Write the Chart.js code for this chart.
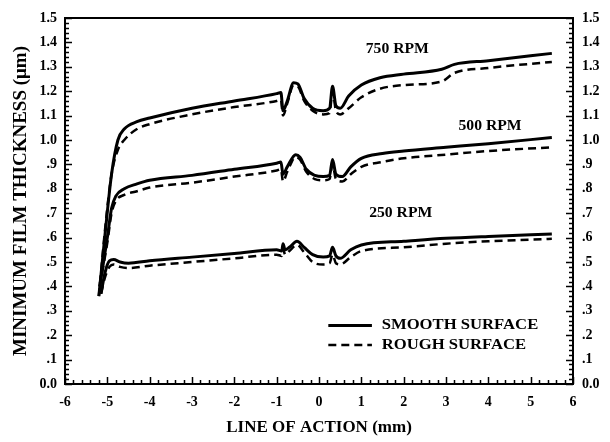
<!DOCTYPE html>
<html>
  <head>
    <title>Minimum Film Thickness</title>
    <script src="https://cdn.jsdelivr.net/npm/chart.js"></script>
    <style>
      html, body { margin: 0; padding: 0; background: #fff; }
      #wrap { width: 610px; height: 442px; }
    </style>
  </head>
  <body>
    <div id="wrap"><canvas id="film-chart"></canvas></div>

    <script>
      // line of action positions (mm) and film thickness (um)
      const x750 = [-5.2, -5.05, -4.9, -4.75, -4.6, -4.3, -4.0, -3.0, -2.0, -1.0, -0.9, -0.85, -0.75, -0.6, -0.5, -0.35, -0.15, 0.1, 0.25, 0.32, 0.4, 0.5, 0.7, 1.0, 1.44, 2.0, 2.9, 3.2, 4.0, 5.5]
      const smooth750 = [0.36, 0.62, 0.86, 1.0, 1.045, 1.075, 1.09, 1.13, 1.16, 1.19, 1.195, 1.12, 1.16, 1.235, 1.23, 1.17, 1.13, 1.12, 1.13, 1.22, 1.14, 1.13, 1.18, 1.225, 1.255, 1.27, 1.29, 1.31, 1.325, 1.355]
      const rough750 = [0.36, 0.64, 0.86, 0.96, 1.0, 1.045, 1.065, 1.105, 1.135, 1.16, 1.165, 1.1, 1.15, 1.225, 1.22, 1.16, 1.12, 1.105, 1.11, 1.2, 1.12, 1.105, 1.13, 1.175, 1.21, 1.225, 1.24, 1.275, 1.295, 1.32]

      const x500 = [-5.18, -5.0, -4.9, -4.8, -4.6, -4.3, -4.0, -3.0, -2.0, -1.0, -0.9, -0.85, -0.75, -0.55, -0.45, -0.3, -0.1, 0.1, 0.25, 0.32, 0.4, 0.55, 0.75, 1.0, 1.5, 2.0, 3.0, 4.0, 5.5]
      const smooth500 = [0.4, 0.6, 0.72, 0.77, 0.8, 0.82, 0.835, 0.855, 0.88, 0.905, 0.91, 0.86, 0.89, 0.94, 0.93, 0.88, 0.855, 0.85, 0.855, 0.92, 0.86, 0.85, 0.89, 0.925, 0.945, 0.955, 0.97, 0.985, 1.01]
      const rough500 = [0.4, 0.58, 0.7, 0.75, 0.775, 0.79, 0.805, 0.825, 0.85, 0.875, 0.88, 0.83, 0.87, 0.93, 0.92, 0.87, 0.84, 0.835, 0.84, 0.9, 0.84, 0.83, 0.86, 0.89, 0.91, 0.925, 0.94, 0.955, 0.97]

      const x250 = [-5.15, -5.05, -4.95, -4.85, -4.7, -4.5, -4.0, -3.0, -2.0, -1.0, -0.88, -0.85, -0.8, -0.7, -0.52, -0.35, -0.15, 0.1, 0.25, 0.32, 0.4, 0.5, 0.75, 1.0, 2.0, 3.0, 4.0, 5.5]
      const smooth250 = [0.37, 0.46, 0.505, 0.51, 0.5, 0.495, 0.505, 0.52, 0.535, 0.55, 0.545, 0.575, 0.55, 0.56, 0.585, 0.56, 0.53, 0.52, 0.525, 0.56, 0.525, 0.515, 0.55, 0.57, 0.585, 0.597, 0.605, 0.615]
      const rough250 = [0.37, 0.44, 0.48, 0.49, 0.48, 0.475, 0.485, 0.5, 0.515, 0.53, 0.525, 0.555, 0.53, 0.545, 0.57, 0.54, 0.5, 0.49, 0.495, 0.53, 0.495, 0.49, 0.52, 0.545, 0.56, 0.575, 0.585, 0.595]

      const xTickLabels = ['-6', '-5', '-4', '-3', '-2', '-1', '0', '1', '2', '3', '4', '5', '6']
      const yTickLabels = ['0.0', '.1', '.2', '.3', '.4', '.5', '.6', '.7', '.8', '.9', '1.0', '1.1', '1.2', '1.3', '1.4', '1.5']
      const speedLabels = ['750 RPM', '500 RPM', '250 RPM']
      const speedLabelPos = [[1.85, 1.37], [4.04, 1.055], [1.93, 0.7]]
      const legendLabels = ['SMOOTH SURFACE', 'ROUGH SURFACE']

      const serif = '"Liberation Serif", "Times New Roman", serif'
      const toPoints = (xs, ys) => xs.map((x, i) => ({ x: x, y: ys[i] }))

      const lineSet = (xs, ys, dashed) => ({
        data: toPoints(xs, ys),
        borderColor: '#000',
        borderWidth: dashed ? 2.5 : 3,
        borderDash: dashed ? [8, 5] : [],
        pointRadius: 0,
        fill: false,
        cubicInterpolationMode: 'monotone'
      })

      // the figure's lettering is a wide bold serif, so stretch it a little
      const wideText = (ctx, text, x, y, align, sx) => {
        ctx.save()
        ctx.translate(x, y)
        ctx.scale(sx, 1)
        ctx.textAlign = align
        ctx.fillText(text, 0, 0)
        ctx.restore()
      }

      // frame, inward tick marks, curve labels and legend
      const decorations = {
        id: 'decorations',
        afterDraw(chart) {
          const ctx = chart.ctx
          const a = chart.chartArea
          const xs = chart.scales.x
          const ys = chart.scales.y
          ctx.save()
          ctx.strokeStyle = '#000'
          ctx.lineWidth = 2
          ctx.strokeRect(a.left, a.top, a.right - a.left, a.bottom - a.top)

          ctx.lineWidth = 1.5
          ctx.beginPath()
          for (let i = 0; i <= 75; i++) {
            const py = Math.round(ys.getPixelForValue(i * 0.02)) + 0.5
            const len = i % 5 === 0 ? 7 : 4
            ctx.moveTo(a.left, py)
            ctx.lineTo(a.left + len, py)
            ctx.moveTo(a.right, py)
            ctx.lineTo(a.right - len, py)
          }
          for (let i = 0; i <= 60; i++) {
            const px = Math.round(xs.getPixelForValue(-6 + i * 0.2)) + 0.5
            const len = i % 5 === 0 ? 7 : 4
            ctx.moveTo(px, a.bottom)
            ctx.lineTo(px, a.bottom - len)
          }
          ctx.stroke()

          ctx.fillStyle = '#000'
          ctx.font = 'bold 14px ' + serif
          ctx.textBaseline = 'middle'
          speedLabels.forEach((t, i) => {
            wideText(ctx, t, xs.getPixelForValue(speedLabelPos[i][0]), ys.getPixelForValue(speedLabelPos[i][1]), 'center', 1.12)
          })

          // legend
          const lx = xs.getPixelForValue(0.22)
          const lx2 = xs.getPixelForValue(1.25)
          const ly = [ys.getPixelForValue(0.24), ys.getPixelForValue(0.16)]
          ctx.lineWidth = 3
          ctx.beginPath()
          ctx.moveTo(lx, ly[0])
          ctx.lineTo(lx2, ly[0])
          ctx.stroke()
          ctx.lineWidth = 2.5
          ctx.setLineDash([8, 5])
          ctx.beginPath()
          ctx.moveTo(lx, ly[1])
          ctx.lineTo(lx2, ly[1])
          ctx.stroke()
          ctx.setLineDash([])
          legendLabels.forEach((t, i) => {
            wideText(ctx, t, xs.getPixelForValue(1.48), ly[i], 'left', 1.19)
          })
          ctx.restore()
        }
      }

      const tickFont = { family: serif, size: 14, weight: 'bold' }
      const yTicks = {
        stepSize: 0.1,
        color: '#000',
        font: tickFont,
        callback: v => yTickLabels[Math.round(v * 10)]
      }

      new Chart(document.getElementById('film-chart'), {
        type: 'line',
        data: {
          datasets: [
            lineSet(x750, smooth750, false),
            lineSet(x750, rough750, true),
            lineSet(x500, smooth500, false),
            lineSet(x500, rough500, true),
            lineSet(x250, smooth250, false),
            lineSet(x250, rough250, true)
          ]
        },
        options: {
          responsive: true,
          maintainAspectRatio: false,
          animation: false,
          layout: { padding: { top: 18, left: 6, right: 0, bottom: 0 } },
          plugins: { legend: { display: false }, tooltip: { enabled: false } },
          scales: {
            x: {
              type: 'linear',
              min: -6,
              max: 6,
              grid: { display: false, drawTicks: false },
              border: { display: false },
              ticks: {
                stepSize: 1,
                color: '#000',
                font: tickFont,
                padding: 10,
                callback: v => xTickLabels[Math.round(v) + 6]
              },
              title: {
                display: true,
                text: 'LINE OF ACTION (mm)',
                color: '#000',
                font: { family: serif, size: 17, weight: 'bold' },
                padding: { top: 0 }
              },
              afterFit: s => { s.height = 58 }
            },
            y: {
              position: 'left',
              min: 0,
              max: 1.5,
              grid: { display: false, drawTicks: false },
              border: { display: false },
              ticks: Object.assign({ padding: 8 }, yTicks),
              title: {
                display: true,
                text: 'MINIMUM FILM THICKNESS (\u03bcm)',
                color: '#000',
                font: { family: serif, size: 19, weight: 'bold' },
                padding: { top: 4, bottom: 0 }
              },
              afterFit: s => { s.width = 59 }
            },
            y2: {
              position: 'right',
              min: 0,
              max: 1.5,
              grid: { display: false, drawTicks: false },
              border: { display: false },
              ticks: Object.assign({ padding: 9 }, yTicks),
              afterFit: s => { s.width = 37 }
            }
          }
        },
        plugins: [decorations]
      })
    </script>
  </body>
</html>
